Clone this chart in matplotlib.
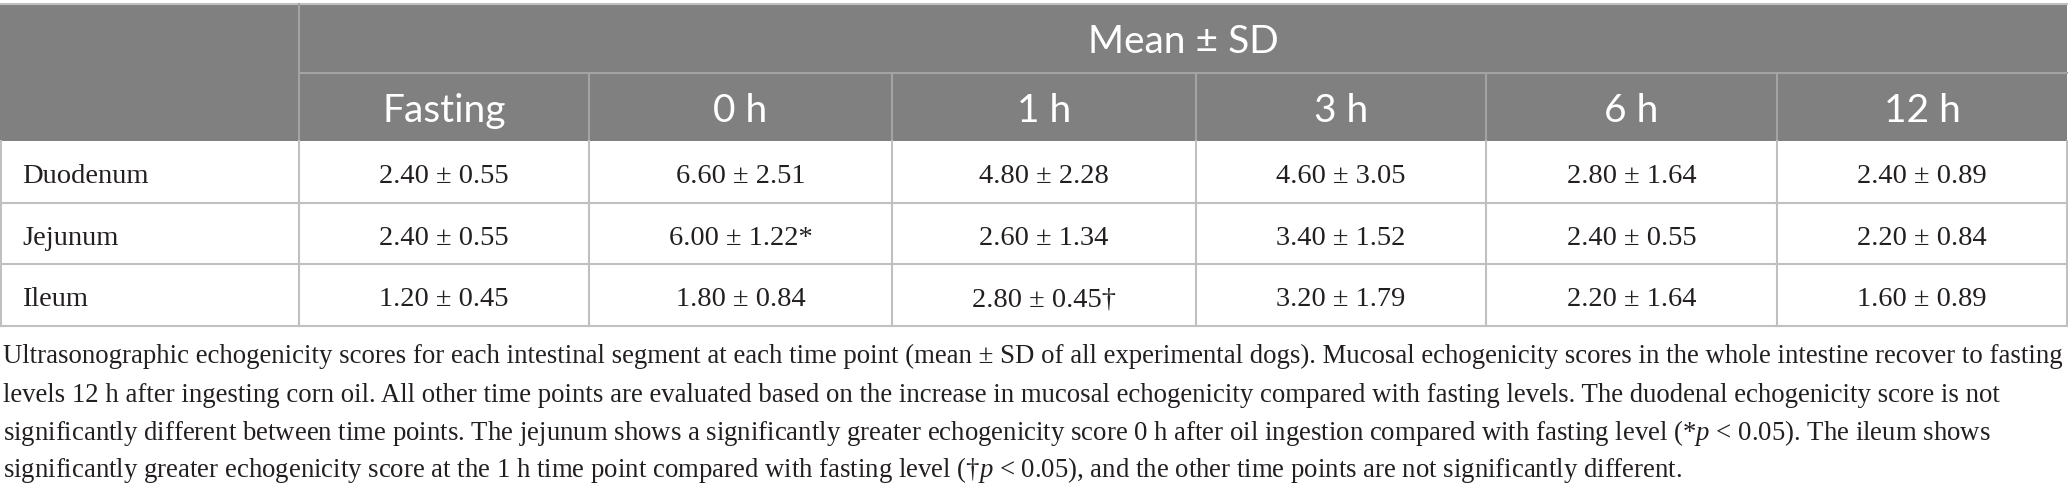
import matplotlib.pyplot as plt
from matplotlib.patches import Rectangle

# table content
segments = ['Duodenum', 'Jejunum', 'Ileum']
time_points = ['Fasting', '0 h', '1 h', '3 h', '6 h', '12 h']
group_title = 'Mean ± SD'

duodenum_mean = [2.40, 6.60, 4.80, 4.60, 2.80, 2.40]
duodenum_sd = [0.55, 2.51, 2.28, 3.05, 1.64, 0.89]
jejunum_mean = [2.40, 6.00, 2.60, 3.40, 2.40, 2.20]
jejunum_sd = [0.55, 1.22, 1.34, 1.52, 0.55, 0.84]
ileum_mean = [1.20, 1.80, 2.80, 3.20, 2.20, 1.60]
ileum_sd = [0.45, 0.84, 0.45, 1.79, 1.64, 0.89]
jejunum_marks = ['', '*', '', '', '', '']
ileum_marks = ['', '', '†', '', '', '']

footnote = [
    'Ultrasonographic echogenicity scores for each intestinal segment at each time point (mean ± SD of all experimental dogs). Mucosal echogenicity scores in the whole intestine recover to fasting',
    'levels 12 h after ingesting corn oil. All other time points are evaluated based on the increase in mucosal echogenicity compared with fasting levels. The duodenal echogenicity score is not',
    'significantly different between time points. The jejunum shows a significantly greater echogenicity score 0 h after oil ingestion compared with fasting level (*$p$ < 0.05). The ileum shows',
    'significantly greater echogenicity score at the 1 h time point compared with fasting level (†$p$ < 0.05), and the other time points are not significantly different.',
]

means = [duodenum_mean, jejunum_mean, ileum_mean]
sds = [duodenum_sd, jejunum_sd, ileum_sd]
marks = [['']*6, jejunum_marks, ileum_marks]

plt.rcParams['mathtext.fontset'] = 'custom'
plt.rcParams['mathtext.rm'] = 'Liberation Serif'
plt.rcParams['mathtext.it'] = 'Liberation Serif:italic'

# layout in pixels
W, H = 2068, 491
col_edges = [0, 299, 589, 892, 1196, 1486, 1777, 2067]
top, mid, head_bot = 4, 73, 141
row_edges = [141, 203, 264, 326]

header_bg = '#808080'
grid = '#c0c0c0'
grid_dark = '#a3a3a3'
ink = '#231f20'

fig = plt.figure(figsize=(W/100, H/100), dpi=100)
ax = fig.add_axes([0, 0, 1, 1])
ax.set_xlim(0, W)
ax.set_ylim(H, 0)
ax.axis('off')

# header block
ax.add_patch(Rectangle((0, top), col_edges[-1], head_bot - top, facecolor=header_bg, edgecolor='none'))
ax.plot([0, col_edges[-1]], [top, top], color=grid, lw=1.5)
ax.plot([col_edges[1], col_edges[-1]], [mid, mid], color=grid_dark, lw=1.5)
ax.plot([col_edges[1], col_edges[1]], [top, head_bot], color=grid_dark, lw=1.5)
for x in col_edges[2:-1]:
    ax.plot([x, x], [mid, head_bot], color=grid_dark, lw=1.5)

ax.text((col_edges[1] + col_edges[-1]) / 2, 53, group_title, color='white',
        family='Lato', fontsize=28, ha='center', va='baseline')
for i, t in enumerate(time_points):
    xc = (col_edges[i+1] + col_edges[i+2]) / 2
    ax.text(xc, 122, t, color='white', family='Lato', fontsize=28, ha='center', va='baseline')

# body grid
for y in row_edges[1:]:
    ax.plot([0, col_edges[-1]], [y, y], color=grid, lw=1.5)
for x in col_edges[1:]:
    ax.plot([x, x], [head_bot, row_edges[-1]], color=grid, lw=1.5)
ax.plot([1, 1], [head_bot, row_edges[-1]], color=grid, lw=1.5)

for r, seg in enumerate(segments):
    yb = (row_edges[r] + row_edges[r+1]) / 2 + 11
    ax.text(22, yb, seg, color=ink, family='Liberation Serif', fontsize=20.5, va='baseline')
    for c in range(len(time_points)):
        xc = (col_edges[c+1] + col_edges[c+2]) / 2
        s = f'{means[r][c]:.2f} ± {sds[r][c]:.2f}{marks[r][c]}'
        ax.text(xc, yb, s, color=ink, family='Liberation Serif', fontsize=20.5,
                ha='center', va='baseline')

# footnote, sized so the first line spans the width
base = [363, 402, 440, 477]
notes = [ax.text(3, y, line, color=ink, family='Liberation Serif', fontsize=18, va='baseline')
         for y, line in zip(base, footnote)]
fig.canvas.draw()
w = notes[0].get_window_extent().width
for t in notes:
    t.set_fontsize(18 * 2058 / w)

fig.savefig('out.png', dpi=100)
